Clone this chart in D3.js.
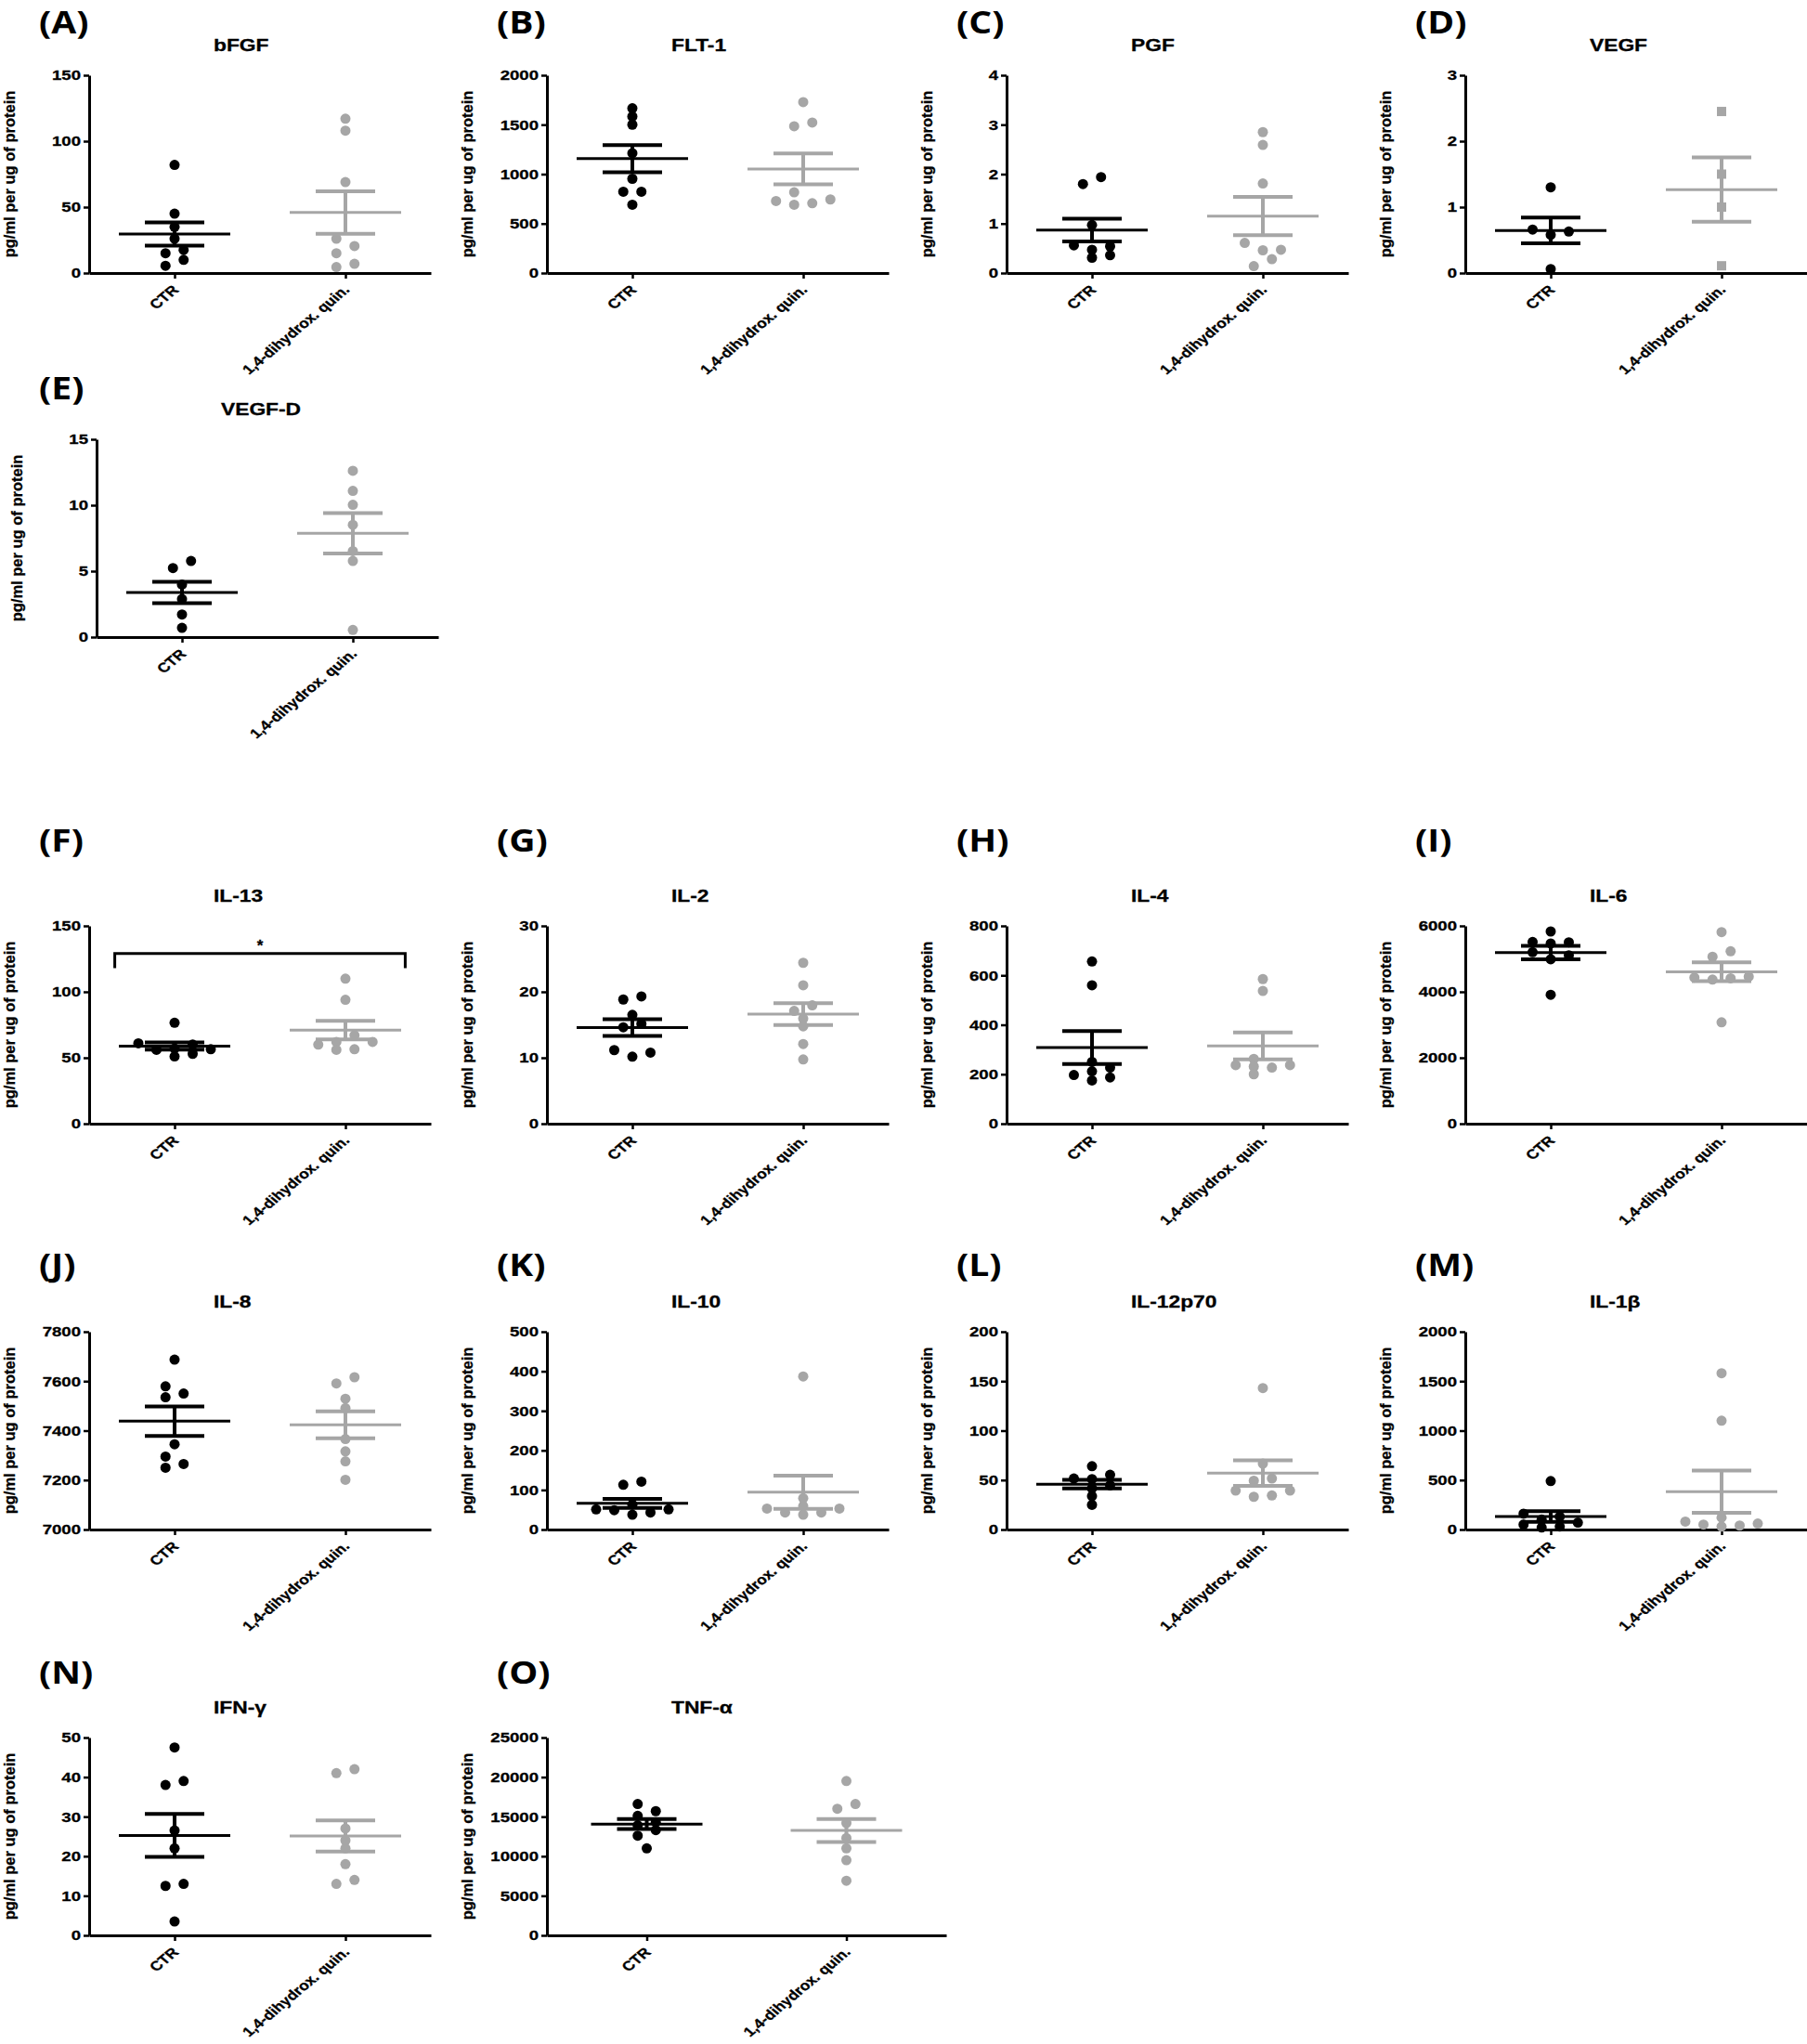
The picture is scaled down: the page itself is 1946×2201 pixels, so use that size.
<!DOCTYPE html>
<html lang="en">
<head>
<meta charset="UTF-8">
<title>Angiogenic factors and cytokines</title>
<script src="https://cdn.jsdelivr.net/npm/d3@7"></script>
<style>
    body { margin: 0; background: #fff; }
    svg { display: block; }
    .axis path, .axis line { stroke: #000; }
    .axis path { stroke-width: 3px; }
    .axis line { stroke-width: 2.5px; }
    .axis text, .cat, .ylab, .title, .star {
        font-family: "Liberation Sans", Arial, sans-serif;
        font-weight: bold;
        fill: #000;
        stroke: #000;
        stroke-width: 0.3px;
    }
    .letter { font-family: "Open Sans", sans-serif; font-weight: 700; font-size: 34px; }
</style>
</head>
<body>
<div id="chart"></div>
<script>
/*------------------------ data ------------------------*/
const groups = ["CTR", "1,4-dihydrox. quin."];
const letters = ["A", "B", "C", "D", "E", "F", "G", "H", "I", "J", "K", "L", "M", "N", "O"];
const titles = ["bFGF", "FLT-1", "PGF", "VEGF", "VEGF-D", "IL-13", "IL-2", "IL-4", "IL-6",
    "IL-8", "IL-10", "IL-12p70", "IL-1\u03b2", "IFN-\u03b3", "TNF-\u03b1"];
const yDomains = [[0, 150], [0, 2000], [0, 4], [0, 3], [0, 15], [0, 150], [0, 30], [0, 800],
    [0, 6000], [7000, 7800], [0, 500], [0, 200], [0, 2000], [0, 50], [0, 25000]];
const yTickSteps = [50, 500, 1, 1, 5, 50, 10, 200, 2000, 200, 100, 50, 500, 10, 5000];
const yLabel = "pg/ml per ug of protein";

// control group values, one array per panel
const ctrValues = [
    [82, 45, 35, 26, 17.5, 15, 10, 5.5],
    [1666, 1583, 1500, 1212, 953, 822, 822, 691],
    [1.94, 1.80, 0.97, 0.56, 0.47, 0.54, 0.31, 0.36],
    [1.30, 0.66, 0.58, 0.63, 0.06],
    [5.77, 5.23, 3.98, 2.88, 1.71, 0.70],
    [76.5, 61, 60, 57, 56.5, 56, 53, 51],
    [18.84, 19.31, 16.5, 15.14, 14.63, 11.16, 10.17, 10.78],
    [656, 560, 250, 212, 197, 227, 187, 175],
    [5831, 5503, 5466, 5513, 5203, 4988, 5109, 3909],
    [7687, 7579, 7535, 7550, 7345, 7295, 7265, 7250],
    [121, 113, 43, 51, 49, 51, 63, 37.5],
    [64, 55.3, 51, 51.6, 44.7, 41.6, 33.75, 25],
    [490, 160, 130, 100, 70, 50, 30, 20],
    [47.5, 39, 38, 26.5, 22, 13, 12.5, 3.5],
    [16600, 15700, 15100, 14300, 13900, 13300, 12600, 11000]
];
// 1,4-dihydroxy quinoline group values
const trtValues = [
    [117, 108, 69, 26, 20.5, 15, 7, 4.5],
    [1728, 1522, 1484, 816, 744, 728, 691, 706],
    [2.85, 2.59, 1.81, 0.61, 0.46, 0.47, 0.28, 0.14],
    [2.45, 1.50, 1.00, 0.11],
    [12.61, 11.09, 10.03, 8.51, 6.52, 5.77, 0.54],
    [110, 94, 67, 62, 62, 60, 56.5, 56],
    [24.4, 21.0, 17.95, 17.1, 15.94, 14.77, 12.09, 9.75],
    [585, 537, 262, 237, 231, 227, 237, 200],
    [5812, 5231, 5063, 4460, 4430, 4410, 4370, 3075],
    [7616, 7591, 7529, 7491, 7366, 7316, 7276, 7201],
    [387, 79, 43, 53, 43, 53, 59, 37.5],
    [143, 66.6, 49.4, 51.6, 39.4, 39.4, 33.1, 34.4],
    [1580, 1100, 120, 80, 60, 50, 40, 30],
    [42, 41, 27, 24, 22, 18, 14, 13],
    [19500, 16600, 16000, 14200, 12300, 11000, 9500, 6900]
];
const trtSquares = ["D"];          // panels whose treated group uses square markers
const sigPanel = "F";              // significance bracket
const sigBracket = [129, 118];     // top of bracket, end of legs (data units)
const sigLabel = "*";

/*------------------------ layout ------------------------*/
const W = 1946, H = 2201;
const plotH = 213;
const colX = [96, 589, 1084, 1578];
const rowTop = [81, 473, 997, 1434, 1871];
const rowShift = [0, 8, 0, 0, 0];
const letterDy = [-45, -43, -80, -60, -58];
const gridCol = [0, 1, 2, 3, 0, 0, 1, 2, 3, 0, 1, 2, 3, 0, 1];
const gridRow = [0, 0, 0, 0, 1, 2, 2, 2, 2, 3, 3, 3, 3, 4, 4];
const colours = ["#000000", "#a6a6a6"];
const dotR = 5.5, sq = 10;
const meanW = 120, capW = 64;
const SX = 1.2;   // the figure's lettering is set wide

const svg = d3.select("#chart").append("svg")
    .attr("width", W).attr("height", H)
    .style("background", "#fff");

// spread points that sit too close together, the way scatter dot plots do
function swarm(vals, y, T, step) {
    const py = vals.map(v => y(v));
    const idx = d3.range(vals.length).sort((a, b) => vals[a] - vals[b]);
    const comp = [];
    let c = -1;
    idx.forEach((i, k) => {
        if (k === 0 || Math.abs(py[i] - py[idx[k - 1]]) >= T) c++;
        comp[i] = c;
    });
    const off = vals.map(() => 0);
    const placed = [];
    const cand = [-0.5, 0.5, -1.5, 1.5, -2.5, 2.5, -3.5, 3.5];
    idx.forEach(i => {
        const size = comp.filter(x => x === comp[i]).length;
        if (size > 1) {
            for (const s of cand) {
                const hit = placed.some(j => comp[j] === comp[i] && off[j] === s &&
                    Math.abs(py[j] - py[i]) < T);
                if (!hit) { off[i] = s; break; }
            }
        }
        placed.push(i);
    });
    for (let cc = 0; cc <= c; cc++) {
        const m = idx.filter(i => comp[i] === cc);
        const shift = -(d3.min(m, i => off[i]) + d3.max(m, i => off[i])) / 2;
        m.forEach(i => off[i] += shift);
    }
    return off.map(o => o * step);
}

letters.forEach((letter, p) => {
    const row = gridRow[p];
    const ax = colX[gridCol[p]] + rowShift[row];
    const top = rowTop[row];
    const w = letter === "O" ? 430 : 368;

    const g = svg.append("g").attr("transform", `translate(${ax},${top})`);

    // panel letter and title
    svg.append("text").attr("class", "letter")
        .attr("transform", `translate(${ax - 54 - rowShift[row]},${top + letterDy[row]}) scale(1.15,1)`)
        .text(`(${letter})`);
    g.append("text").attr("class", "title")
        .attr("transform", `translate(134,-26) scale(${SX},1)`)
        .style("font-size", "19px")
        .text(titles[p]);

    // scales
    const [lo, hi] = yDomains[p];
    const y = d3.scaleLinear().domain([lo, hi]).range([plotH, 0]);
    const x = d3.scalePoint().domain(groups).range([0, w]).padding(0.5);

    // y axis
    g.append("g").attr("class", "axis")
        .call(d3.axisLeft(y)
            .tickValues(d3.range(lo, hi + yTickSteps[p] / 2, yTickSteps[p]))
            .tickFormat(d3.format("d"))
            .tickSize(6).tickSizeOuter(0).tickPadding(3))
        .selectAll("text")
        .attr("x", -9 / SX)
        .attr("transform", `scale(${SX},1)`)
        .style("font-size", "15.5px");

    g.append("text").attr("class", "ylab")
        .attr("transform", `translate(-80,${plotH / 2}) rotate(-90)`)
        .attr("text-anchor", "middle")
        .style("font-size", "16.5px")
        .text(yLabel);

    // x axis with slanted group names
    const xa = g.append("g").attr("class", "axis")
        .attr("transform", `translate(0,${plotH})`)
        .call(d3.axisBottom(x).tickSize(6).tickSizeOuter(0).tickFormat(""));
    xa.selectAll(".tick").append("text")
        .attr("class", "cat")
        .attr("transform", `translate(5,19) scale(${SX},1) rotate(-45)`)
        .attr("text-anchor", "end")
        .style("font-size", "14.5px")
        .text(d => d);

    // points + mean / SEM
    [ctrValues[p], trtValues[p]].forEach((vals, gi) => {
        const cx = x(groups[gi]);
        const col = colours[gi];
        const offs = swarm(vals, y, 8.2, 19.5);
        const useSq = gi === 1 && trtSquares.includes(letter);

        if (useSq) {
            g.selectAll(null).data(vals).enter().append("rect")
                .attr("x", (d, i) => cx + offs[i] - sq / 2)
                .attr("y", d => y(d) - sq / 2)
                .attr("width", sq).attr("height", sq)
                .attr("fill", col);
        } else {
            g.selectAll(null).data(vals).enter().append("circle")
                .attr("cx", (d, i) => cx + offs[i])
                .attr("cy", d => y(d))
                .attr("r", dotR)
                .attr("fill", col);
        }

        const mean = d3.mean(vals);
        const sem = d3.deviation(vals) / Math.sqrt(vals.length);
        g.append("line")
            .attr("x1", cx).attr("x2", cx)
            .attr("y1", y(mean - sem)).attr("y2", y(mean + sem))
            .attr("stroke", col).attr("stroke-width", 4);
        [mean - sem, mean + sem].forEach(v => {
            g.append("line")
                .attr("x1", cx - capW / 2).attr("x2", cx + capW / 2)
                .attr("y1", y(v)).attr("y2", y(v))
                .attr("stroke", col).attr("stroke-width", 4);
        });
        g.append("line")
            .attr("x1", cx - meanW / 2).attr("x2", cx + meanW / 2)
            .attr("y1", y(mean)).attr("y2", y(mean))
            .attr("stroke", col).attr("stroke-width", 3);
    });

    // significance bracket
    if (letter === sigPanel) {
        const x0 = x(groups[0]), x1 = x(groups[1]);
        const ext = x.step() * 0.35;
        g.append("path")
            .attr("d", `M${x0 - ext},${y(sigBracket[1])}V${y(sigBracket[0])}H${x1 + ext}V${y(sigBracket[1])}`)
            .attr("fill", "none").attr("stroke", "#000").attr("stroke-width", 3);
        g.append("text").attr("class", "star")
            .attr("x", (x0 + x1) / 2).attr("y", y(sigBracket[0]) - 3)
            .attr("text-anchor", "middle")
            .style("font-size", "17px")
            .text(sigLabel);
    }
});
</script>
</body>
</html>
